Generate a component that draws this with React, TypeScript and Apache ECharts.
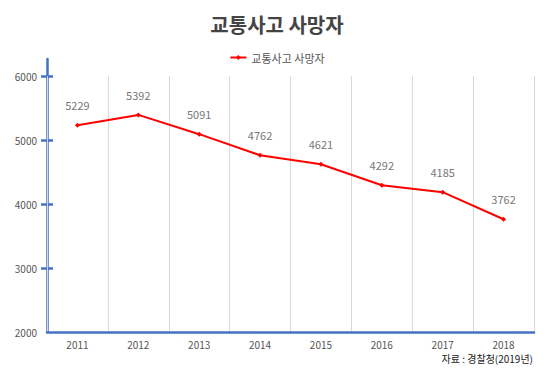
import React, { useEffect, useRef } from "react";
import * as echarts from "echarts";

const years = ["2011", "2012", "2013", "2014", "2015", "2016", "2017", "2018"];
const deaths = [5229, 5392, 5091, 4762, 4621, 4292, 4185, 3762];
const yLabels = [2000, 3000, 4000, 5000, 6000];
const yTicks = [3000, 4000, 5000, 6000];
const seriesName = "교통사고 사망자";
const titleText = "교통사고 사망자";
const sourceText = "자료 : 경찰청(2019년)";

const FONT = "'Noto Sans CJK KR', 'Noto Sans', sans-serif";
const AXIS_BLUE = "#4472C4";

export default function App() {
  const ref = useRef<HTMLDivElement>(null);
  useEffect(() => {
    if (!ref.current) return;
    const chart = echarts.init(ref.current, null, { renderer: "svg" });
    chart.setOption({
      animation: false,
      backgroundColor: "#ffffff",
      textStyle: { fontFamily: FONT },
      title: {
        text: titleText,
        left: "center",
        top: 9,
        textStyle: { fontSize: 20, fontWeight: "bold", color: "#444", fontFamily: FONT },
      },
      legend: {
        data: [seriesName],
        top: 47,
        left: "center",
        itemWidth: 16,
        itemHeight: 6,
        itemGap: 4,
        textStyle: { fontSize: 11, color: "#555", fontFamily: FONT },
      },
      graphic: [
        {
          type: "text",
          right: 21,
          top: 353,
          style: { text: sourceText, fontSize: 10, fill: "#222", fontFamily: FONT },
        },
      ],
      grid: [
        { left: 47, right: 20, top: 76, bottom: 53, containLabel: false },
        { left: 47, right: 20, top: 59, bottom: 53, containLabel: false },
      ],
      xAxis: [
        {
          type: "category",
          gridIndex: 0,
          data: years,
          boundaryGap: true,
          axisLine: { lineStyle: { color: AXIS_BLUE, width: 2.5 } },
          axisTick: { show: false },
          axisLabel: { color: "#555", fontSize: 10, margin: 7, fontFamily: FONT },
          splitLine: { show: true, lineStyle: { color: "#d9d9d9", width: 1 } },
          z: 3,
        },
        {
          type: "category",
          gridIndex: 1,
          data: years,
          show: false,
        },
      ],
      yAxis: [
        {
          type: "value",
          gridIndex: 0,
          min: 2000,
          max: 6000,
          interval: 1000,
          axisLine: { show: false },
          axisTick: {
            show: true,
            length: 6,
            customValues: yTicks,
            lineStyle: { color: AXIS_BLUE, width: 2.5 },
          },
          axisLabel: {
            color: "#555",
            fontSize: 10,
            margin: 10,
            customValues: yLabels,
            formatter: (v: number) => String(v),
            fontFamily: FONT,
          },
          splitLine: { show: false },
        },
        {
          type: "value",
          gridIndex: 0,
          min: 2000,
          max: 6000,
          interval: 1000,
          position: "left",
          offset: 0,
          axisLine: { show: false },
          axisTick: {
            show: true,
            inside: true,
            length: 6,
            customValues: yTicks,
            lineStyle: { color: AXIS_BLUE, width: 2.5 },
          },
          axisLabel: { show: false },
          splitLine: { show: false },
        },
        {
          type: "value",
          gridIndex: 1,
          min: 0,
          max: 1,
          axisLine: { show: true, lineStyle: { color: AXIS_BLUE, width: 2.5 } },
          axisTick: { show: false },
          axisLabel: { show: false },
          splitLine: { show: false },
        },
      ],
      series: [
        {
          name: seriesName,
          type: "line",
          xAxisIndex: 0,
          yAxisIndex: 0,
          data: deaths,
          symbol: "diamond",
          symbolSize: 5,
          lineStyle: { color: "#ff0000", width: 2 },
          itemStyle: { color: "#ff0000" },
          label: {
            show: true,
            position: "top",
            distance: 12,
            color: "#777",
            fontSize: 11,
            fontFamily: FONT,
          },
          z: 5,
        },
      ],
    });
    return () => chart.dispose();
  }, []);
  return <div ref={ref} style={{ width: 554, height: 385, position: "absolute", left: 0, top: 0 }} />;
}
